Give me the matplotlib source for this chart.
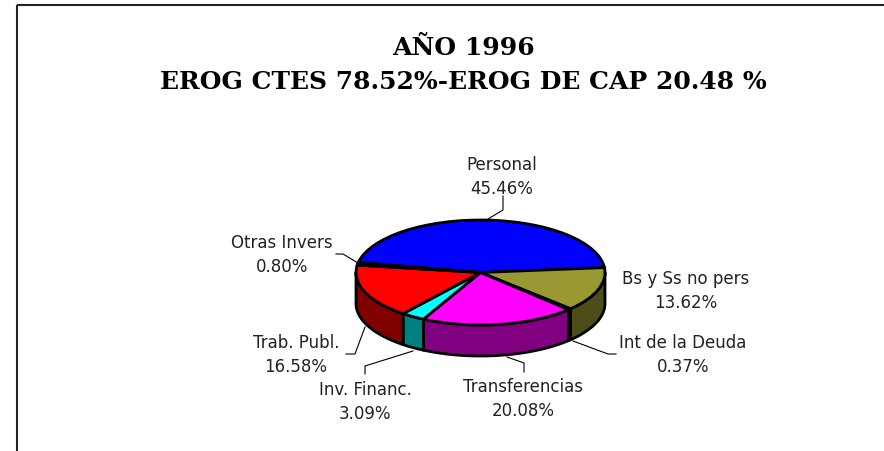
import numpy as np
import matplotlib
matplotlib.use('Agg')
import matplotlib.pyplot as plt

W, H = 884, 452
categories = ['Personal', 'Bs y Ss no pers', 'Int de la Deuda', 'Transferencias',
              'Inv. Financ.', 'Trab. Publ.', 'Otras Invers']
values = [45.46, 13.62, 0.37, 20.08, 3.09, 16.58, 0.80]
top_colors = ['#0000FF', '#999933', '#000000', '#FF00FF', '#00FFFF', '#FF0000', '#000000']
side_colors = ['#000080', '#4D4D19', '#000000', '#800080', '#008080', '#800000', '#000000']
title_lines = 'AÑO 1996\nEROG CTES 78.52%-EROG DE CAP 20.48 %'
start_angle = 169

# pixel geometry of the pie
cx, cy, rx, ry, depth = 480.5, 273.5, 124.5, 52.5, 31

fig = plt.figure(figsize=(W / 100, H / 100), dpi=100, facecolor='white')
bg = fig.add_axes([0, 0, 1, 1])
bg.set_xlim(0, W); bg.set_ylim(H, 0); bg.axis('off')

# frame (only the top and left edges fall inside the picture)
bg.plot([16.5, 16.5], [5.5, H], color='#222222', lw=1.5, solid_capstyle='butt')
bg.plot([16.5, W], [5.5, 5.5], color='#222222', lw=1.5, solid_capstyle='butt')

bg.text(463, 65, title_lines, ha='center', va='center', family='DejaVu Serif',
        weight='bold', fontsize=18, linespacing=1.5, color='black')

ax = fig.add_axes([(cx - rx) / W, 1 - (cy + ry) / H, 2 * rx / W, 2 * ry / H])
d = depth / ry

# side walls, computed from the slice angles
a = start_angle
for v, sc in zip(values, side_colors):
    b = a - v * 3.6
    lo, hi = max(b, -180), min(a, 0)
    if hi > lo:
        t = np.radians(np.linspace(hi, lo, 60))
        x, y = np.cos(t), np.sin(t)
        ax.fill(np.r_[x, x[::-1]], np.r_[y, y[::-1] - d], facecolor=sc,
                edgecolor='black', lw=2, clip_on=False, joinstyle='round', zorder=1)
    a = b

wedges, _ = ax.pie(values, colors=top_colors, startangle=start_angle, counterclock=False,
                   radius=1, center=(0, 0), frame=False,
                   wedgeprops=dict(edgecolor='black', linewidth=2, clip_on=False, zorder=3))
ax.set_aspect('auto')
ax.set_xlim(-1, 1); ax.set_ylim(-1, 1)
ax.axis('off')

# labels: name and percent
label_pos = [(502, 177), (686, 291), (683, 355), (523, 399),
             (365, 402), (296, 355), (282, 255)]
for name, v, (lx, ly) in zip(categories, values, label_pos):
    bg.text(lx, ly, f'{name}\n{v:.2f}%', ha='center', va='center', family='DejaVu Sans',
            fontsize=12, linespacing=1.46, color='#222222')

# leader lines
leaders = [([503, 503, 488], [197, 211, 220]),
           ([358, 343, 336], [264, 255, 255]),
           ([573, 608, 616], [342, 355, 355]),
           ([507, 524, 524], [358, 364, 373]),
           ([413, 365, 365], [352, 367, 375]),
           ([365, 355, 346], [328, 355, 355])]
for xs, ys in leaders:
    bg.plot(xs, ys, color='black', lw=0.8)

fig.savefig('out.png', dpi=100, facecolor='white')
